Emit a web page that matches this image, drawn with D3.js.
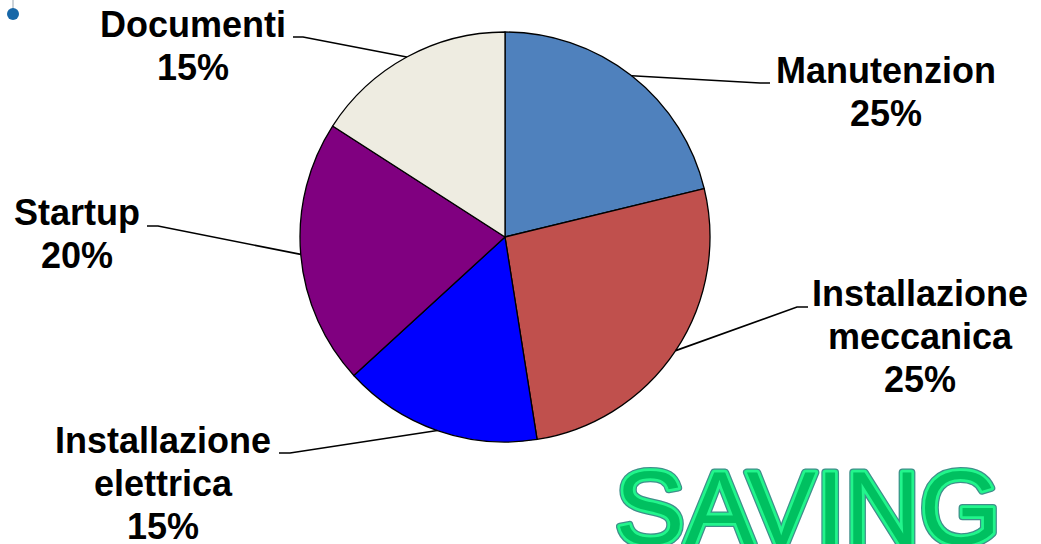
<!DOCTYPE html>
<html>
<head>
<meta charset="utf-8">
<script src="https://cdn.jsdelivr.net/npm/d3@7"></script>
<style>
  body { margin: 0; background: #fff; }
  svg { display: block; }
</style>
</head>
<body>
<svg id="chart" width="1041" height="544"></svg>
<script>
// slice data (angles), plus the printed percentages
const categories = ["Manutenzion", "Installazione meccanica", "Installazione elettrica", "Startup", "Documenti"];
const values = [21.2, 26.3, 15.7, 20.9, 15.9];
const pctLabels = ["25%", "25%", "15%", "20%", "15%"];
const colors = ["#4F81BD", "#C0504D", "#0000FF", "#800080", "#EEECE1"];

// label layout: elbow of leader line, line end, text centre and first baseline
const labelLayout = [
  { ex: 760, ey: 83,  lx: 770, tx: 886, ty: 83 },
  { ex: 797, ey: 307, lx: 808, tx: 920, ty: 306 },
  { ex: 290, ey: 453, lx: 279, tx: 163, ty: 453 },
  { ex: 158, ey: 226, lx: 147, tx: 77,  ty: 225 },
  { ex: 303, ey: 37,  lx: 293, tx: 193, ty: 37 }
];

const width = 1041, height = 544;
const cx = 505, cy = 237, radius = 205;
const lineH = 43;

const svg = d3.select("#chart");

// small bullet in the top-left corner
svg.append("line")
  .attr("x1", 13).attr("x2", 13).attr("y1", 0).attr("y2", 9)
  .attr("stroke", "#9aa6b2").attr("stroke-width", 1);
svg.append("circle")
  .attr("cx", 13).attr("cy", 14).attr("r", 6)
  .attr("fill", "#1767a8");

const pie = d3.pie().value(d => d).sort(null);
const arc = d3.arc().innerRadius(0).outerRadius(radius);
const arcs = pie(values);

const g = svg.append("g").attr("transform", `translate(${cx},${cy})`);

g.selectAll("path")
  .data(arcs)
  .enter().append("path")
  .attr("d", arc)
  .attr("fill", (d, i) => colors[i])
  .attr("stroke", "#000")
  .attr("stroke-width", 1.3)
  .attr("stroke-linejoin", "round");

// leader lines from the middle of each slice's outer edge
arcs.forEach((d, i) => {
  const a = (d.startAngle + d.endAngle) / 2;
  const sx = cx + radius * Math.sin(a);
  const sy = cy - radius * Math.cos(a);
  const L = labelLayout[i];
  svg.append("polyline")
    .attr("points", `${sx},${sy} ${L.ex},${L.ey} ${L.lx},${L.ey}`)
    .attr("fill", "none")
    .attr("stroke", "#000")
    .attr("stroke-width", 1.6);

  const lines = categories[i].split(" ").concat([pctLabels[i]]);
  const t = svg.append("text")
    .attr("text-anchor", "middle")
    .attr("font-family", "'Liberation Sans', Arial, sans-serif")
    .attr("font-weight", "bold")
    .attr("font-size", 36)
    .attr("fill", "#000");
  lines.forEach((s, k) => {
    t.append("tspan")
      .attr("x", L.tx)
      .attr("y", L.ty + k * lineH)
      .text(s);
  });
});

// SAVING word art, bottom right
const word = "SAVING";
const wx = 808, wy = 544;
const layers = [
  { stroke: "#3f8f8a", sw: 8, fill: "none" },
  { stroke: "#22f58c", sw: 5.5, fill: "none" },
  { stroke: "none", sw: 0, fill: "#00c060" }
];
layers.forEach(l => {
  svg.append("text")
    .attr("x", wx).attr("y", wy)
    .attr("text-anchor", "middle")
    .attr("font-family", "'Liberation Sans', Arial, sans-serif")
    .attr("font-size", 104)
    .attr("fill", l.fill)
    .attr("stroke", l.stroke)
    .attr("stroke-width", l.sw)
    .attr("stroke-linejoin", "round")
    .text(word);
});
</script>
</body>
</html>
